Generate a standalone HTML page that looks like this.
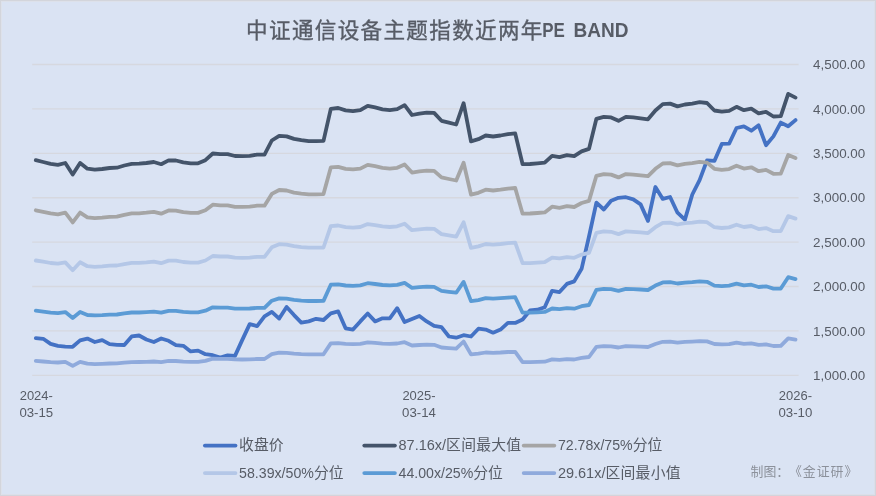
<!DOCTYPE html>
<html lang="zh-CN"><head><meta charset="utf-8"><title>中证通信设备主题指数近两年PE BAND</title>
<style>html,body{margin:0;padding:0;background:#dae3f3;}body{width:876px;height:496px;overflow:hidden;}svg{display:block;}</style>
</head><body>
<svg width="876" height="496" viewBox="0 0 876 496">
<rect x="0" y="0" width="876" height="496" fill="#dae3f3"/>
<path d="M0,0.5H876M0.5,0V496" stroke="#d3d5db" stroke-width="1" fill="none"/>
<path d="M1,1.5H875M1.5,1V495" stroke="#dde1ea" stroke-width="1" fill="none"/>
<path d="M2,494.5H875M874.5,2V495" stroke="#dcdfe9" stroke-width="1" fill="none"/>
<path d="M0,495.5H876M875.5,0V496" stroke="#d3d4dc" stroke-width="1" fill="none"/>
<g stroke="#d6d8df" stroke-width="1.35">
<line x1="32.2" y1="64.50" x2="798.6" y2="64.50"/>
<line x1="32.2" y1="108.90" x2="798.6" y2="108.90"/>
<line x1="32.2" y1="153.30" x2="798.6" y2="153.30"/>
<line x1="32.2" y1="197.70" x2="798.6" y2="197.70"/>
<line x1="32.2" y1="242.10" x2="798.6" y2="242.10"/>
<line x1="32.2" y1="286.50" x2="798.6" y2="286.50"/>
<line x1="32.2" y1="330.90" x2="798.6" y2="330.90"/>
<line x1="32.2" y1="375.30" x2="798.6" y2="375.30"/>
</g>
<g fill="none" stroke-width="3.8" stroke-linecap="round" stroke-linejoin="round">
<path stroke="#4472c4" d="M35.8,338.2 L43.2,338.8 L50.6,343.9 L57.9,345.8 L65.3,346.6 L72.7,346.8 L80.1,340.4 L87.4,338.6 L94.8,342.0 L102.2,340.1 L109.6,344.1 L116.9,344.9 L124.3,345.0 L131.7,336.4 L139.1,335.5 L146.4,339.5 L153.8,342.0 L161.2,338.5 L168.6,340.8 L175.9,345.2 L183.3,345.8 L190.7,351.4 L198.1,350.6 L205.4,354.2 L212.8,355.2 L220.2,357.5 L227.6,355.4 L235.0,355.9 L242.3,339.9 L249.7,324.1 L257.1,326.1 L264.5,316.3 L271.8,311.9 L279.2,318.6 L286.6,306.9 L294.0,315.1 L301.3,322.6 L308.7,321.4 L316.1,318.8 L323.5,320.0 L330.8,313.3 L338.2,311.4 L345.6,328.3 L353.0,329.6 L360.3,321.4 L367.7,313.5 L375.1,321.4 L382.5,318.3 L389.8,318.3 L397.2,308.2 L404.6,322.0 L412.0,318.9 L419.4,315.9 L426.7,321.4 L434.1,325.8 L441.5,327.1 L448.9,336.5 L456.2,337.7 L463.6,335.2 L471.0,336.5 L478.4,328.7 L485.7,329.6 L493.1,332.7 L500.5,329.6 L507.9,322.9 L515.2,322.9 L522.6,319.5 L530.0,310.5 L537.4,309.7 L544.7,307.2 L552.1,290.8 L559.5,292.1 L566.9,283.9 L574.2,281.4 L581.6,268.8 L589.0,236.5 L596.4,202.6 L603.8,209.5 L611.1,200.7 L618.5,197.8 L625.9,197.2 L633.3,199.4 L640.6,204.4 L648.0,220.9 L655.4,187.0 L662.8,198.9 L670.1,197.0 L677.5,212.7 L684.9,219.6 L692.3,194.5 L699.6,180.2 L707.0,160.3 L714.4,160.9 L721.8,143.9 L729.1,143.7 L736.5,128.0 L743.9,126.3 L751.3,130.7 L758.6,125.3 L766.0,145.2 L773.4,136.4 L780.8,122.6 L788.2,126.3 L795.5,120.1"/>
<path stroke="#44546a" d="M35.8,160.2 L43.2,162.0 L50.6,163.9 L57.9,164.9 L65.3,163.0 L72.7,174.6 L80.1,162.9 L87.4,168.7 L94.8,169.6 L102.2,169.0 L109.6,168.0 L116.9,167.7 L124.3,165.5 L131.7,163.8 L139.1,163.7 L146.4,163.0 L153.8,162.0 L161.2,164.2 L168.6,160.4 L175.9,160.5 L183.3,162.4 L190.7,163.3 L198.1,163.3 L205.4,160.2 L212.8,153.5 L220.2,154.2 L227.6,154.2 L235.0,156.0 L242.3,156.1 L249.7,155.9 L257.1,154.6 L264.5,154.6 L271.8,140.5 L279.2,135.8 L286.6,136.4 L294.0,138.9 L301.3,140.2 L308.7,141.1 L316.1,141.1 L323.5,140.8 L330.8,108.8 L338.2,108.0 L345.6,110.4 L353.0,111.2 L360.3,110.2 L367.7,105.8 L375.1,107.4 L382.5,109.3 L389.8,110.2 L397.2,109.2 L404.6,105.2 L412.0,115.0 L419.4,113.6 L426.7,112.7 L434.1,112.9 L441.5,120.8 L448.9,122.7 L456.2,124.5 L463.6,103.2 L471.0,141.3 L478.4,139.2 L485.7,135.5 L493.1,136.5 L500.5,135.5 L507.9,134.2 L515.2,133.4 L522.6,164.2 L530.0,164.0 L537.4,163.4 L544.7,162.7 L552.1,155.8 L559.5,157.1 L566.9,155.2 L574.2,156.2 L581.6,151.4 L589.0,148.9 L596.4,118.8 L603.8,116.8 L611.1,117.4 L618.5,120.8 L625.9,116.8 L633.3,117.4 L640.6,118.3 L648.0,119.3 L655.4,110.5 L662.8,104.1 L670.1,103.6 L677.5,106.4 L684.9,104.5 L692.3,103.6 L699.6,102.2 L707.0,103.0 L714.4,110.5 L721.8,111.7 L729.1,110.8 L736.5,106.8 L743.9,110.2 L751.3,108.7 L758.6,113.3 L766.0,111.8 L773.4,116.5 L780.8,116.2 L788.2,93.9 L795.5,97.6"/>
<path stroke="#a5a5a5" d="M35.8,210.3 L43.2,211.8 L50.6,213.4 L57.9,214.3 L65.3,212.7 L72.7,222.4 L80.1,212.6 L87.4,217.4 L94.8,218.2 L102.2,217.7 L109.6,216.9 L116.9,216.6 L124.3,214.8 L131.7,213.3 L139.1,213.3 L146.4,212.7 L153.8,211.8 L161.2,213.7 L168.6,210.5 L175.9,210.6 L183.3,212.2 L190.7,212.9 L198.1,212.9 L205.4,210.3 L212.8,204.7 L220.2,205.3 L227.6,205.3 L235.0,206.8 L242.3,206.9 L249.7,206.7 L257.1,205.7 L264.5,205.7 L271.8,193.9 L279.2,190.0 L286.6,190.5 L294.0,192.6 L301.3,193.6 L308.7,194.4 L316.1,194.4 L323.5,194.1 L330.8,167.4 L338.2,166.8 L345.6,168.8 L353.0,169.4 L360.3,168.6 L367.7,164.9 L375.1,166.2 L382.5,167.8 L389.8,168.6 L397.2,167.8 L404.6,164.4 L412.0,172.6 L419.4,171.4 L426.7,170.7 L434.1,170.8 L441.5,177.4 L448.9,179.0 L456.2,180.5 L463.6,162.7 L471.0,194.6 L478.4,192.8 L485.7,189.7 L493.1,190.5 L500.5,189.7 L507.9,188.6 L515.2,188.0 L522.6,213.7 L530.0,213.5 L537.4,213.0 L544.7,212.4 L552.1,206.7 L559.5,207.8 L566.9,206.2 L574.2,207.0 L581.6,203.0 L589.0,200.9 L596.4,175.8 L603.8,174.1 L611.1,174.6 L618.5,177.4 L625.9,174.1 L633.3,174.6 L640.6,175.4 L648.0,176.2 L655.4,168.8 L662.8,163.5 L670.1,163.1 L677.5,165.4 L684.9,163.8 L692.3,163.1 L699.6,161.9 L707.0,162.6 L714.4,168.8 L721.8,169.8 L729.1,169.1 L736.5,165.7 L743.9,168.6 L751.3,167.3 L758.6,171.2 L766.0,169.9 L773.4,173.8 L780.8,173.6 L788.2,155.0 L795.5,158.1"/>
<path stroke="#b4c7e7" d="M35.8,260.5 L43.2,261.7 L50.6,263.0 L57.9,263.7 L65.3,262.4 L72.7,270.2 L80.1,262.3 L87.4,266.2 L94.8,266.8 L102.2,266.4 L109.6,265.7 L116.9,265.5 L124.3,264.1 L131.7,262.9 L139.1,262.9 L146.4,262.4 L153.8,261.7 L161.2,263.2 L168.6,260.6 L175.9,260.7 L183.3,262.0 L190.7,262.6 L198.1,262.6 L205.4,260.5 L212.8,256.0 L220.2,256.5 L227.6,256.5 L235.0,257.7 L242.3,257.8 L249.7,257.6 L257.1,256.8 L264.5,256.8 L271.8,247.3 L279.2,244.2 L286.6,244.6 L294.0,246.2 L301.3,247.1 L308.7,247.7 L316.1,247.7 L323.5,247.5 L330.8,226.1 L338.2,225.5 L345.6,227.2 L353.0,227.7 L360.3,227.0 L367.7,224.1 L375.1,225.1 L382.5,226.4 L389.8,227.0 L397.2,226.3 L404.6,223.7 L412.0,230.2 L419.4,229.3 L426.7,228.7 L434.1,228.8 L441.5,234.1 L448.9,235.4 L456.2,236.6 L463.6,222.3 L471.0,247.9 L478.4,246.4 L485.7,244.0 L493.1,244.6 L500.5,244.0 L507.9,243.1 L515.2,242.6 L522.6,263.2 L530.0,263.1 L537.4,262.7 L544.7,262.2 L552.1,257.6 L559.5,258.4 L566.9,257.2 L574.2,257.8 L581.6,254.6 L589.0,252.9 L596.4,232.8 L603.8,231.4 L611.1,231.8 L618.5,234.1 L625.9,231.4 L633.3,231.8 L640.6,232.4 L648.0,233.1 L655.4,227.2 L662.8,222.9 L670.1,222.6 L677.5,224.5 L684.9,223.2 L692.3,222.6 L699.6,221.7 L707.0,222.2 L714.4,227.2 L721.8,228.0 L729.1,227.4 L736.5,224.7 L743.9,227.0 L751.3,226.0 L758.6,229.1 L766.0,228.1 L773.4,231.2 L780.8,231.0 L788.2,216.1 L795.5,218.6"/>
<path stroke="#5b9bd5" d="M35.8,310.7 L43.2,311.6 L50.6,312.6 L57.9,313.1 L65.3,312.1 L72.7,318.0 L80.1,312.0 L87.4,315.0 L94.8,315.4 L102.2,315.1 L109.6,314.6 L116.9,314.5 L124.3,313.4 L131.7,312.5 L139.1,312.5 L146.4,312.1 L153.8,311.6 L161.2,312.7 L168.6,310.8 L175.9,310.8 L183.3,311.8 L190.7,312.3 L198.1,312.3 L205.4,310.7 L212.8,307.3 L220.2,307.7 L227.6,307.7 L235.0,308.6 L242.3,308.6 L249.7,308.5 L257.1,307.9 L264.5,307.9 L271.8,300.7 L279.2,298.4 L286.6,298.7 L294.0,299.9 L301.3,300.6 L308.7,301.0 L316.1,301.0 L323.5,300.9 L330.8,284.7 L338.2,284.3 L345.6,285.5 L353.0,285.9 L360.3,285.4 L367.7,283.2 L375.1,284.0 L382.5,285.0 L389.8,285.4 L397.2,284.9 L404.6,282.9 L412.0,287.9 L419.4,287.2 L426.7,286.7 L434.1,286.8 L441.5,290.8 L448.9,291.8 L456.2,292.7 L463.6,281.9 L471.0,301.1 L478.4,300.1 L485.7,298.2 L493.1,298.7 L500.5,298.2 L507.9,297.6 L515.2,297.2 L522.6,312.7 L530.0,312.6 L537.4,312.3 L544.7,311.9 L552.1,308.5 L559.5,309.1 L566.9,308.2 L574.2,308.7 L581.6,306.2 L589.0,305.0 L596.4,289.8 L603.8,288.8 L611.1,289.1 L618.5,290.8 L625.9,288.8 L633.3,289.1 L640.6,289.5 L648.0,290.0 L655.4,285.6 L662.8,282.4 L670.1,282.1 L677.5,283.5 L684.9,282.6 L692.3,282.1 L699.6,281.4 L707.0,281.8 L714.4,285.6 L721.8,286.2 L729.1,285.7 L736.5,283.7 L743.9,285.4 L751.3,284.7 L758.6,287.0 L766.0,286.3 L773.4,288.6 L780.8,288.5 L788.2,277.2 L795.5,279.1"/>
<path stroke="#8faadc" d="M35.8,360.9 L43.2,361.5 L50.6,362.1 L57.9,362.5 L65.3,361.8 L72.7,365.8 L80.1,361.8 L87.4,363.7 L94.8,364.1 L102.2,363.8 L109.6,363.5 L116.9,363.4 L124.3,362.7 L131.7,362.1 L139.1,362.0 L146.4,361.8 L153.8,361.5 L161.2,362.2 L168.6,360.9 L175.9,361.0 L183.3,361.6 L190.7,361.9 L198.1,361.9 L205.4,360.9 L212.8,358.6 L220.2,358.8 L227.6,358.8 L235.0,359.4 L242.3,359.5 L249.7,359.4 L257.1,359.0 L264.5,359.0 L271.8,354.2 L279.2,352.6 L286.6,352.8 L294.0,353.6 L301.3,354.1 L308.7,354.4 L316.1,354.4 L323.5,354.3 L330.8,343.4 L338.2,343.1 L345.6,343.9 L353.0,344.2 L360.3,343.9 L367.7,342.4 L375.1,342.9 L382.5,343.6 L389.8,343.9 L397.2,343.5 L404.6,342.2 L412.0,345.5 L419.4,345.0 L426.7,344.7 L434.1,344.8 L441.5,347.5 L448.9,348.1 L456.2,348.7 L463.6,341.5 L471.0,354.4 L478.4,353.7 L485.7,352.5 L493.1,352.8 L500.5,352.5 L507.9,352.0 L515.2,351.8 L522.6,362.2 L530.0,362.2 L537.4,361.9 L544.7,361.7 L552.1,359.4 L559.5,359.8 L566.9,359.2 L574.2,359.5 L581.6,357.9 L589.0,357.0 L596.4,346.8 L603.8,346.1 L611.1,346.3 L618.5,347.5 L625.9,346.1 L633.3,346.3 L640.6,346.6 L648.0,347.0 L655.4,344.0 L662.8,341.8 L670.1,341.6 L677.5,342.6 L684.9,341.9 L692.3,341.6 L699.6,341.2 L707.0,341.4 L714.4,344.0 L721.8,344.4 L729.1,344.1 L736.5,342.7 L743.9,343.9 L751.3,343.4 L758.6,344.9 L766.0,344.4 L773.4,346.0 L780.8,345.9 L788.2,338.3 L795.5,339.6"/>
</g>
<g font-family="'Liberation Sans', sans-serif" font-size="13.6" fill="#575c66">
<text x="813.1" y="69.1" textLength="52.1" lengthAdjust="spacingAndGlyphs">4,500.00</text>
<text x="813.1" y="113.5" textLength="52.1" lengthAdjust="spacingAndGlyphs">4,000.00</text>
<text x="813.1" y="157.9" textLength="52.1" lengthAdjust="spacingAndGlyphs">3,500.00</text>
<text x="813.1" y="202.3" textLength="52.1" lengthAdjust="spacingAndGlyphs">3,000.00</text>
<text x="813.1" y="246.7" textLength="52.1" lengthAdjust="spacingAndGlyphs">2,500.00</text>
<text x="813.1" y="291.1" textLength="52.1" lengthAdjust="spacingAndGlyphs">2,000.00</text>
<text x="813.1" y="335.5" textLength="52.1" lengthAdjust="spacingAndGlyphs">1,500.00</text>
<text x="813.1" y="379.9" textLength="52.1" lengthAdjust="spacingAndGlyphs">1,000.00</text>
<text x="19.7" y="399.5" textLength="33.2" lengthAdjust="spacingAndGlyphs">2024-</text>
<text x="19.4" y="417.3" textLength="33.8" lengthAdjust="spacingAndGlyphs">03-15</text>
<text x="402.4" y="399.5" textLength="33.2" lengthAdjust="spacingAndGlyphs">2025-</text>
<text x="402.1" y="417.3" textLength="33.8" lengthAdjust="spacingAndGlyphs">03-14</text>
<text x="778.8" y="399.5" textLength="33.2" lengthAdjust="spacingAndGlyphs">2026-</text>
<text x="778.5" y="417.3" textLength="33.8" lengthAdjust="spacingAndGlyphs">03-10</text>
</g>
<text x="246.1" y="37.8" font-size="21.6" fill="#575c66" stroke="#575c66" stroke-width="0.35" font-family="'Liberation Sans', 'Noto Sans CJK SC', sans-serif" letter-spacing="1.3">中证通信设备主题指数近两年</text>
<text x="542.2" y="37.3" font-size="20" font-weight="bold" fill="#575c66" font-family="'Liberation Sans', 'Noto Sans CJK SC', sans-serif" textLength="22.6" lengthAdjust="spacingAndGlyphs">PE</text>
<text x="573.4" y="37.3" font-size="20" font-weight="bold" fill="#575c66" font-family="'Liberation Sans', 'Noto Sans CJK SC', sans-serif" textLength="55" lengthAdjust="spacingAndGlyphs">BAND</text>
<line x1="204.9" y1="445.6" x2="235.5" y2="445.6" stroke="#4472c4" stroke-width="3.8" stroke-linecap="round"/>
<text x="239.1" y="450.2" font-family="'Liberation Sans', 'Noto Sans CJK SC', sans-serif" font-size="14.8" letter-spacing="0" fill="#575c66">收盘价</text>
<line x1="364.3" y1="445.6" x2="394.9" y2="445.6" stroke="#44546a" stroke-width="3.8" stroke-linecap="round"/>
<text x="398.5" y="450.2" font-family="'Liberation Sans', sans-serif" font-size="14" fill="#575c66" textLength="47.6" lengthAdjust="spacingAndGlyphs">87.16x/</text>
<text x="446.1" y="450.2" font-family="'Liberation Sans', 'Noto Sans CJK SC', sans-serif" font-size="14.8" letter-spacing="0.25" fill="#575c66">区间最大值</text>
<line x1="523.7" y1="445.6" x2="554.3" y2="445.6" stroke="#a5a5a5" stroke-width="3.8" stroke-linecap="round"/>
<text x="557.9" y="450.2" font-family="'Liberation Sans', sans-serif" font-size="14" fill="#575c66" textLength="74.8" lengthAdjust="spacingAndGlyphs">72.78x/75%</text>
<text x="632.7" y="450.2" font-family="'Liberation Sans', 'Noto Sans CJK SC', sans-serif" font-size="14.8" letter-spacing="0" fill="#575c66">分位</text>
<line x1="204.9" y1="473.1" x2="235.5" y2="473.1" stroke="#b4c7e7" stroke-width="3.8" stroke-linecap="round"/>
<text x="239.1" y="477.7" font-family="'Liberation Sans', sans-serif" font-size="14" fill="#575c66" textLength="74.8" lengthAdjust="spacingAndGlyphs">58.39x/50%</text>
<text x="313.9" y="477.7" font-family="'Liberation Sans', 'Noto Sans CJK SC', sans-serif" font-size="14.8" letter-spacing="0" fill="#575c66">分位</text>
<line x1="364.3" y1="473.1" x2="394.9" y2="473.1" stroke="#5b9bd5" stroke-width="3.8" stroke-linecap="round"/>
<text x="398.5" y="477.7" font-family="'Liberation Sans', sans-serif" font-size="14" fill="#575c66" textLength="74.8" lengthAdjust="spacingAndGlyphs">44.00x/25%</text>
<text x="473.3" y="477.7" font-family="'Liberation Sans', 'Noto Sans CJK SC', sans-serif" font-size="14.8" letter-spacing="0" fill="#575c66">分位</text>
<line x1="523.7" y1="473.1" x2="554.3" y2="473.1" stroke="#8faadc" stroke-width="3.8" stroke-linecap="round"/>
<text x="557.9" y="477.7" font-family="'Liberation Sans', sans-serif" font-size="14" fill="#575c66" textLength="47.6" lengthAdjust="spacingAndGlyphs">29.61x/</text>
<text x="605.5" y="477.7" font-family="'Liberation Sans', 'Noto Sans CJK SC', sans-serif" font-size="14.8" letter-spacing="0.25" fill="#575c66">区间最小值</text>
<text x="750.5" y="476" font-size="12.9" fill="#8c919b" font-family="'Liberation Sans', 'Noto Sans CJK SC', sans-serif">制图：</text>
<text x="788.9" y="476" font-size="12.9" letter-spacing="1.0" fill="#8c919b" font-family="'Liberation Sans', 'Noto Sans CJK SC', sans-serif">《金证研》</text>
</svg>
</body></html>
